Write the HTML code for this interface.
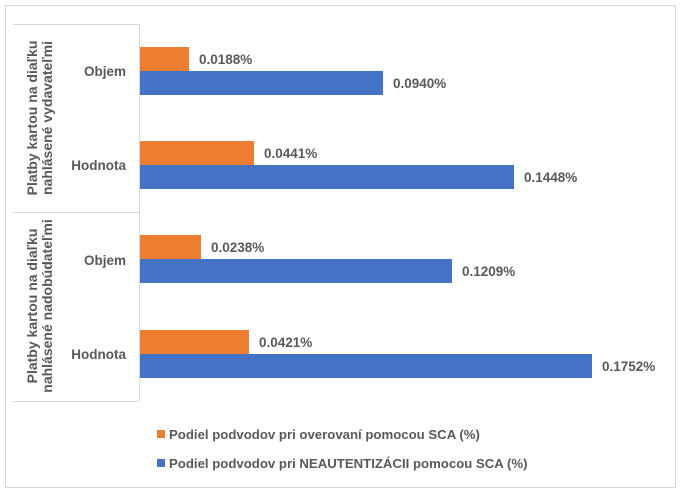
<!DOCTYPE html>
<html><head><meta charset="utf-8"><style>
html,body{margin:0;padding:0;background:#fff}
svg text{font-family:"Liberation Sans",sans-serif;font-weight:bold;fill:#595959}
</style></head><body>
<svg width="684" height="496" xmlns="http://www.w3.org/2000/svg">
<rect x="5.5" y="5.5" width="670" height="482" fill="#fff" stroke="#d9d9d9"/>
<g stroke="#d9d9d9" stroke-width="1">
<line x1="13" y1="24.5" x2="139" y2="24.5"/>
<line x1="13" y1="212.5" x2="139" y2="212.5"/>
<line x1="13" y1="401.5" x2="139" y2="401.5"/>
<line x1="139.5" y1="24" x2="139.5" y2="401"/>
</g>
<g fill="#ed7d31">
<rect x="140" y="47" width="49" height="24"/>
<rect x="140" y="141" width="114" height="24"/>
<rect x="140" y="235" width="61" height="24"/>
<rect x="140" y="330" width="109" height="24"/>
</g>
<g fill="#4472c4">
<rect x="140" y="71" width="243" height="24"/>
<rect x="140" y="165" width="374" height="24"/>
<rect x="140" y="259" width="312" height="24"/>
<rect x="140" y="354" width="452" height="24"/>
</g>
<g font-size="13.5">
<text x="199" y="64">0.0188%</text>
<text x="393" y="88">0.0940%</text>
<text x="264" y="158">0.0441%</text>
<text x="524" y="182">0.1448%</text>
<text x="211" y="252">0.0238%</text>
<text x="462" y="276">0.1209%</text>
<text x="259" y="347">0.0421%</text>
<text x="602" y="371">0.1752%</text>
</g>
<g font-size="13.5" text-anchor="end">
<text x="126" y="76">Objem</text>
<text x="126" y="170">Hodnota</text>
<text x="126" y="265">Objem</text>
<text x="126" y="359">Hodnota</text>
</g>
<g font-size="14" text-anchor="middle">
<text transform="translate(37,118) rotate(-90)">Platby kartou na diaľku</text>
<text transform="translate(52,118) rotate(-90)">nahlásené vydavateľmi</text>
<text transform="translate(37,306) rotate(-90)">Platby kartou na diaľku</text>
<text transform="translate(52,306) rotate(-90)">nahlásené nadobúdateľmi</text>
</g>
<rect x="157" y="430" width="8" height="8" fill="#ed7d31"/>
<rect x="157" y="459" width="8" height="8" fill="#4472c4"/>
<g font-size="13.2">
<text x="169" y="439">Podiel podvodov pri overovaní pomocou SCA (%)</text>
<text x="169" y="468">Podiel podvodov pri NEAUTENTIZÁCII pomocou SCA (%)</text>
</g>
</svg>
</body></html>
